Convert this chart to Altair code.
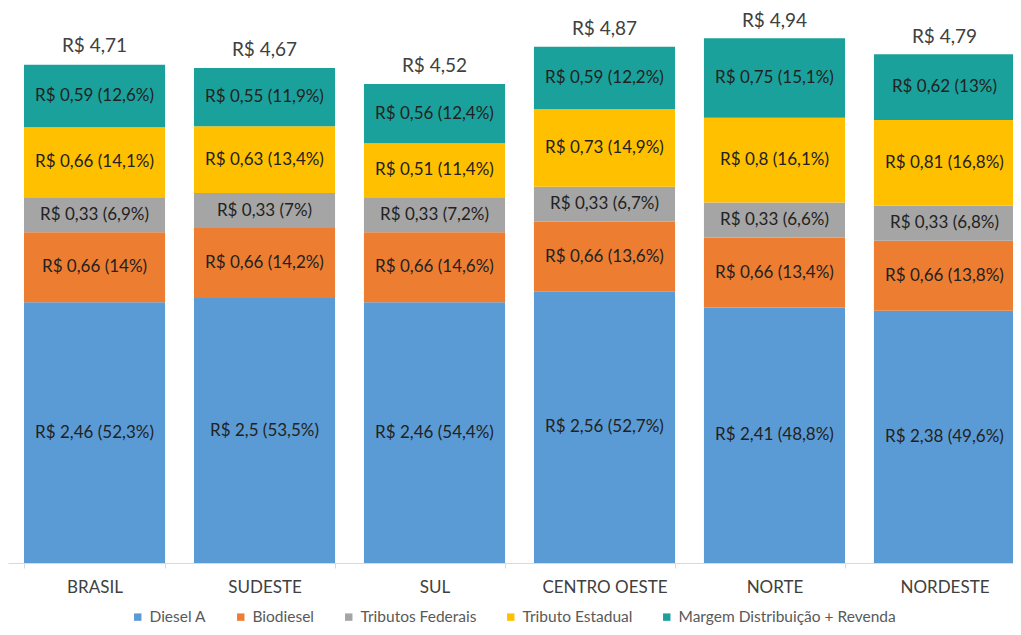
import altair as alt
import pandas as pd

regions = ["BRASIL", "SUDESTE", "SUL", "CENTRO OESTE", "NORTE", "NORDESTE"]
components = ["Diesel A", "Biodiesel", "Tributos Federais", "Tributo Estadual",
              "Margem Distribuição + Revenda"]
colors = ["#5B9BD5", "#ED7D31", "#A5A5A5", "#FFC000", "#1BA19B"]

diesel = [2.46, 2.5, 2.46, 2.56, 2.41, 2.38]
diesel_pct = [52.3, 53.5, 54.4, 52.7, 48.8, 49.6]
biodiesel = [0.66, 0.66, 0.66, 0.66, 0.66, 0.66]
biodiesel_pct = [14, 14.2, 14.6, 13.6, 13.4, 13.8]
federais = [0.33, 0.33, 0.33, 0.33, 0.33, 0.33]
federais_pct = [6.9, 7, 7.2, 6.7, 6.6, 6.8]
estadual = [0.66, 0.63, 0.51, 0.73, 0.8, 0.81]
estadual_pct = [14.1, 13.4, 11.4, 14.9, 16.1, 16.8]
margem = [0.59, 0.55, 0.56, 0.59, 0.75, 0.62]
margem_pct = [12.6, 11.9, 12.4, 12.2, 15.1, 13]
totals = [4.71, 4.67, 4.52, 4.87, 4.94, 4.79]


def br(v):
    return f"{v:g}".replace(".", ",")


series = [(diesel, diesel_pct), (biodiesel, biodiesel_pct), (federais, federais_pct),
          (estadual, estadual_pct), (margem, margem_pct)]
rows = []
for ci, (vals, pcts) in enumerate(series):
    for ri, reg in enumerate(regions):
        rows.append({
            "region": reg,
            "comp": components[ci],
            "order": ci,
            "value": vals[ri],
            "label": f"R$ {br(vals[ri])} ({br(pcts[ri])}%)",
        })
df = pd.DataFrame(rows)
tot = pd.DataFrame({"region": regions, "total": totals,
                    "label": [f"R$ {br(t)}" for t in totals]})

FONT = "Lato"
xenc = alt.X(
    "region:N", sort=regions,
    scale=alt.Scale(range=[0, 1023], paddingInner=0.17, paddingOuter=0.094),
    axis=alt.Axis(title=None, labelAngle=0, labelFontSize=17, labelColor="#404040",
                  labelFont=FONT, labelPadding=11, domainColor="#d9d9d9",
                  tickColor="#d9d9d9", tickBand="extent", tickSize=5),
)
yscale = alt.Scale(domain=[0, 5], nice=False)

base = alt.Chart(df).transform_stack(
    stack="value", groupby=["region"], sort=[alt.SortField("order")], as_=["y0", "y1"]
).transform_calculate(ym="(datum.y0 + datum.y1) / 2")

bars = base.mark_bar().encode(
    x=xenc,
    y=alt.Y("y0:Q", scale=yscale, axis=None),
    y2="y1:Q",
    color=alt.Color(
        "comp:N",
        scale=alt.Scale(domain=components, range=colors),
        legend=alt.Legend(
            title=None, orient="none", legendX=122, legendY=576, direction="horizontal",
            symbolType="square", symbolSize=55, symbolStrokeWidth=0,
            labelFontSize=15.5, labelColor="#595959", labelFont=FONT,
            columnPadding=26, labelOffset=4, labelLimit=0,
        ),
    ),
)

seg_text = base.mark_text(fontSize=17, color="#222222", font=FONT).encode(
    x=alt.X("region:N", sort=regions),
    y=alt.Y("ym:Q", scale=yscale),
    text="label:N",
)

tot_text = alt.Chart(tot).mark_text(fontSize=19, color="#404040", font=FONT, dy=-18).encode(
    x=alt.X("region:N", sort=regions),
    y=alt.Y("total:Q", scale=yscale),
    text="label:N",
)

chart = alt.layer(bars, seg_text, tot_text).properties(
    width=1005, height=530,
    autosize=alt.AutoSizeParams(type="none"),
    padding={"left": 0, "top": 25, "right": 0, "bottom": 64},
    background="white",
).configure_view(strokeWidth=0)

chart.save("out.html", embed_options={"renderer": "svg", "actions": False})
